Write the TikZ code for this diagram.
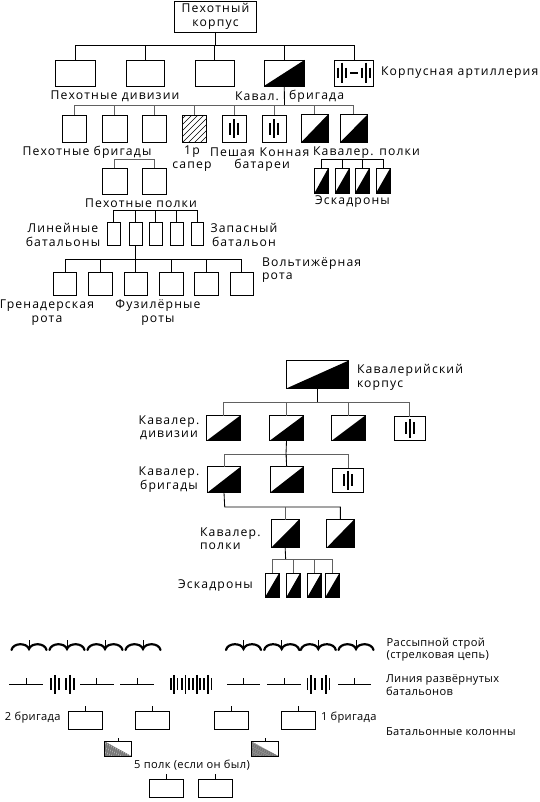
\documentclass[tikz,border=0pt]{standalone}
\usepackage{fontspec}
\setmainfont{Open Sans}[LetterSpace=9.4]
\newfontfamily\smallf{Open Sans}[LetterSpace=3.2]
\tikzset{
  ln/.style={line width=0.85pt,draw=black},
  gl/.style={line width=0.85pt,draw=black!62},
  bx/.style={draw=black,line width=0.85pt,fill=white,inner sep=0pt,outer sep=0pt,rectangle},
  cav/.style={bx,path picture={\fill[black] (path picture bounding box.south west)--(path picture bounding box.south east)--(path picture bounding box.north east)--cycle;}},
  hatch/.style={bx,path picture={\foreach \k in {-24,-18,...,30}{\draw[line width=0.6pt] ([xshift=\k pt]path picture bounding box.south west)--++(30,-30);}}},
  dense/.style={bx,line width=0.7pt,path picture={\begin{scope}\clip (path picture bounding box.north west)--(path picture bounding box.south west)--(path picture bounding box.south east)--cycle;\fill[black!92] (path picture bounding box.north west) rectangle (path picture bounding box.south east);\foreach \k in {-32,-30.2,...,30}{\draw[white,line width=0.25pt] ([xshift=\k pt]path picture bounding box.north west)--++(30,15);}\end{scope}}},
  lb/.style={inner sep=0pt,outer sep=0pt,font=\fontsize{12.2}{13.6}\selectfont,align=center,yshift=-1.2pt},
  ll/.style={lb,anchor=west,align=left},
  sm/.style={inner sep=0pt,outer sep=0pt,anchor=west,align=left,font=\smallf\fontsize{11.1}{12.2}\selectfont,yshift=-1pt},
  barl/.style={line width=1.8pt,draw=black},
  thk/.style={line width=2.2pt,draw=black,line cap=round}
}
\newcommand\mk[6]{\node[#2,minimum width={#5-#3},minimum height={#6-#4}] (#1) at ({(#3+#5)/2},{(#4+#6)/2}) {};}
\newcommand\bars[2][4]{\begin{scope}[shift={#2}]\draw[barl] (-#1,-6)--(-#1,6) (0,-9.5)--(0,9.5) (#1,-6)--(#1,6);\end{scope}}
\newcommand\chainx[1]{\begin{scope}[shift={(#1,649)}]\draw[thk] (-17.5,1) .. controls (-16,-6.5) and (-2,-6.5) .. (0,0) .. controls (2,-6.5) and (16,-6.5) .. (17.5,1);\draw[line width=0.7pt] (0,-9)--(0,-1);\end{scope}}
\newcommand\tickl[3]{\coordinate (tl#3) at (#1,684.3);\coordinate (tr#3) at (#2,684.3);\coordinate (tb#3) at ({(#1+#2)/2},684.3);\coordinate (tt#3) at ({(#1+#2)/2},678);\draw[line width=0.75pt] (tl#3)--(tr#3) (tb#3)--(tt#3);}
\begin{document}
\begin{tikzpicture}[x=1pt,y=-1pt]
\useasboundingbox (0,0) rectangle (540,802);
% infantry corps
\node[bx,minimum width=82pt,minimum height=30.5pt,align=center,font=\fontsize{12.2}{14}\selectfont] (corps) at (215.5,16.7) {Пехотный\\корпус};
\mk{d1}{bx}{55}{60}{95.5}{86}
\mk{d2}{bx}{126.5}{60}{164}{86}
\mk{d3}{bx}{195.5}{60}{234}{86}
\mk{d4}{cav}{264}{60}{304.5}{86}
\mk{d5}{bx}{334.5}{60}{373.5}{86}
\coordinate (b1) at (215.5,45.5);
\draw[ln] (corps.south)--(b1);
\foreach \n in {d1,d2,d3,d4,d5}{\draw[ln] (b1)-|(\n.north);}
\begin{scope}\draw[barl] (337.6,67.7)--(337.6,78.3) (341.7,62.7)--(341.7,83.3) (345.7,67.7)--(345.7,78.3) (350,72.9)--(358.3,72.9) (362.3,67.7)--(362.3,78.3) (366.2,62.7)--(366.2,83.3) (370,67.7)--(370,78.3);\end{scope}
\node[ll] (tart) at (381,71) {Корпусная артиллерия};
\node[lb] (tdiv) at (115,95) {Пехотные дивизии};
\node[ll] (tkav) at (235,95) {Кавал.};
\node[ll] (tbrg) at (289,95) {бригада};
% second row
\mk{e1}{bx}{62.5}{115.5}{86.5}{142.5}
\mk{e2}{bx}{102.5}{115.5}{127}{142.5}
\mk{e3}{bx}{142.5}{115.5}{166.5}{142.5}
\mk{e4}{hatch}{182.5}{115.5}{206.5}{142.5}
\mk{e5}{bx}{222.5}{115.5}{246.5}{142.5}
\mk{e6}{bx}{262.5}{115.5}{286.5}{142.5}
\mk{e7}{cav}{301}{114.5}{328}{142.5}
\mk{e8}{cav}{340}{114.5}{367.5}{142.5}
\coordinate (b2) at (284.5,105);
\draw[ln] (d4.south)--(b2);
\foreach \n in {e1,e2,e3,e4,e5,e6,e7,e8}{\draw[gl] (b2)-|(\n.north);}
\bars{([xshift=-0.7pt]e5.center)}\bars{([xshift=-0.5pt]e6.center)}
\node[lb] (tbr) at (87,151) {Пехотные бригады};
\node[lb] (tsap) at (192,157.5) {1р\\сапер};
\node[lb] (tpes) at (232.5,151) {Пешая};
\node[lb] (tkon) at (284.5,151) {Конная};
\node[lb] (tbat) at (262,164) {батареи};
\node[ll] (tkp) at (313,151) {Кавалер. полки};
% squadrons
\mk{s1}{cav}{314.5}{168.5}{328}{193}
\mk{s2}{cav}{335}{168.5}{349}{193}
\mk{s3}{cav}{355}{168.5}{369}{193}
\mk{s4}{cav}{376}{168.5}{390}{193}
\draw[ln] (s1.north)|-(s4.north|-0,159.5)--(s4.north);
\draw[ln] (s2.north)--(s2.north|-0,159.5) (s3.north)--(s3.north|-0,159.5);
\node[lb] (tesk) at (352.5,200) {Эскадроны};
% regiments
\mk{r1}{bx}{102.5}{168.5}{127}{194.5}
\mk{r2}{bx}{142.5}{168.5}{166.5}{194.5}
\draw[gl] (r1.north)|-(r2.north|-0,159.5)--(r2.north);
\node[lb] (tpol) at (141,202) {Пехотные полки};
% battalions
\mk{k1}{bx}{107.5}{222.5}{120}{245.5}
\mk{k2}{bx}{129}{222.5}{142}{245.5}
\mk{k3}{bx}{149.5}{222.5}{162}{245.5}
\mk{k4}{bx}{170.5}{222.5}{183}{245.5}
\mk{k5}{bx}{191.5}{222.5}{203.5}{245.5}
\draw[ln] (k1.north)|-(k5.north|-0,210.5)--(k5.north);
\foreach \n in {k2,k3,k4}{\draw[ln] (\n.north)--(\n.north|-0,210.5);}
\node[lb] (tlin) at (63,233.5) {Линейные\\батальоны};
\node[lb] (tzap) at (244,233.5) {Запасный\\батальон};
% companies
\mk{c1}{bx}{53.5}{272}{76.5}{295}
\mk{c2}{bx}{88.5}{272}{112}{295}
\mk{c3}{bx}{124}{272}{147}{295}
\mk{c4}{bx}{159.5}{272}{183}{295}
\mk{c5}{bx}{194.5}{272}{218}{295}
\mk{c6}{bx}{230.5}{272}{253}{295}
\coordinate (b3) at (135.5,259);
\draw[ln] (k2.south)--(b3);
\foreach \n in {c1,c2,c3,c4,c5,c6}{\draw[ln] (b3)-|(\n.north);}
\node[ll] (tvol) at (262,269) {Вольтижёрная\\рота};
\node[lb] (tgre) at (47,311.5) {Гренадерская\\рота};
\node[lb] (tfuz) at (158,311.5) {Фузилёрные\\роты};
% cavalry corps
\mk{kc}{cav}{286.7}{360.7}{348.3}{388.3}
\node[ll] (tkc) at (357,376) {Кавалерийский\\корпус};
\mk{f1}{cav}{206.7}{415.7}{240}{440.7}
\mk{f2}{cav}{269.7}{415.7}{303.3}{440.7}
\mk{f3}{cav}{331.7}{415.7}{365}{440.7}
\mk{f4}{bx}{394}{416.5}{425.3}{440}
\coordinate (b4) at (317.3,402.5);
\draw[ln] (kc.south-|b4)--(b4);
\foreach \n in {f1,f2,f3,f4}{\draw[gl] (b4)-|(\n.north);}
\bars{(f4)}
\node[lb] (tkd) at (169,426.5) {Кавалер.\\дивизии};
\mk{g1}{cav}{207.3}{466.7}{240.7}{492.7}
\mk{g2}{cav}{270}{466.7}{303.3}{492.7}
\mk{g3}{bx}{332.7}{468}{363.3}{492}
\coordinate (b5) at (286,454);
\draw[ln] (f2.south)--(b5);
\foreach \n in {g1,g2,g3}{\draw[gl] (b5)-|(\n.north);}
\draw[ln] (b5)--(g2.north);
\bars{(g3)}
\node[lb] (tkb) at (169,478.5) {Кавалер.\\бригады};
\mk{h1}{cav}{271.3}{519.7}{299}{547.7}
\mk{h2}{cav}{326.7}{519.7}{354}{547.7}
\coordinate (b6) at (224.7,507);
\draw[ln] (g1.south)--(b6)-|(h2.north);
\draw[gl] (h1.north|-b6)--(h1.north);
\node[ll] (tkpl) at (200,537.5) {Кавалер.\\полки};
\mk{m1}{cav}{265}{573.3}{279}{597.3}
\mk{m2}{cav}{286.3}{573.3}{300}{597.3}
\mk{m3}{cav}{307.3}{573.3}{321}{597.3}
\mk{m4}{cav}{325.3}{573.3}{339.3}{597.3}
\coordinate (b7) at (285.7,559.7);
\draw[ln] (h1.south)--(b7);
\foreach \n in {m1,m2,m3,m4}{\draw[gl] (b7)-|(\n.north);}
\node[lb] (tem) at (215.5,584) {Эскадроны};
% formations
\foreach \x in {29,67,105,143,243.5,281.7,318.3,356}{\chainx{\x}}
\node[sm] (trs) at (386.7,648.5) {Рассыпной строй\\(стрелковая цепь)};
\tickl{9}{43}{a}\tickl{80}{113.7}{b}\tickl{120}{154}{c}\tickl{227}{260}{d}\tickl{267.3}{300.7}{e}\tickl{338.3}{371.3}{f}
\bars[3.9]{(54.7,684.3)}\bars[4.1]{(69.9,684.3)}
\bars[3.2]{(174.2,684.3)}\bars[3.4]{(185.4,684.3)}\bars[3.4]{(196.6,684.3)}\bars[3.6]{(207.9,684.3)}
\bars[3.9]{(311.3,684.3)}\bars[3.9]{(325.6,684.3)}
\node[sm] (tln) at (386,684) {Линия развёрнутых\\батальонов};
\mk{q1}{bx}{68.3}{711.3}{102.3}{729.3}
\mk{q2}{bx}{135.3}{711.3}{169.3}{729.3}
\mk{q3}{bx}{214.3}{711.3}{248.3}{729.3}
\mk{q4}{bx}{281.3}{711.3}{315.3}{729.3}
\mk{q5}{dense}{104.3}{741.3}{131.7}{756.3}
\mk{q6}{dense}{251}{741.3}{278.7}{756.3}
\mk{q7}{bx}{149.3}{779.3}{183.3}{797.3}
\mk{q8}{bx}{198.3}{779.3}{232.3}{797.3}
\foreach \n in {q1,q2,q3,q4}{\draw[line width=0.7pt] (\n.north)--++(0,-5.7);}
\foreach \n in {q5,q6}{\draw[line width=0.7pt] (\n.north)--++(0,-3.5);}
\foreach \n in {q7,q8}{\draw[line width=0.7pt] (\n.north)--++(0,-5.5);}
\node[sm] (t2b) at (5,716.7) {2 бригада};
\node[sm] (t1b) at (321,717) {1 бригада};
\node[sm] (tbk) at (386,731) {Батальонные колонны};
\node[sm,anchor=center] (t5p) at (192,764.5) {5 полк (если он был)};
\end{tikzpicture}
\end{document}
